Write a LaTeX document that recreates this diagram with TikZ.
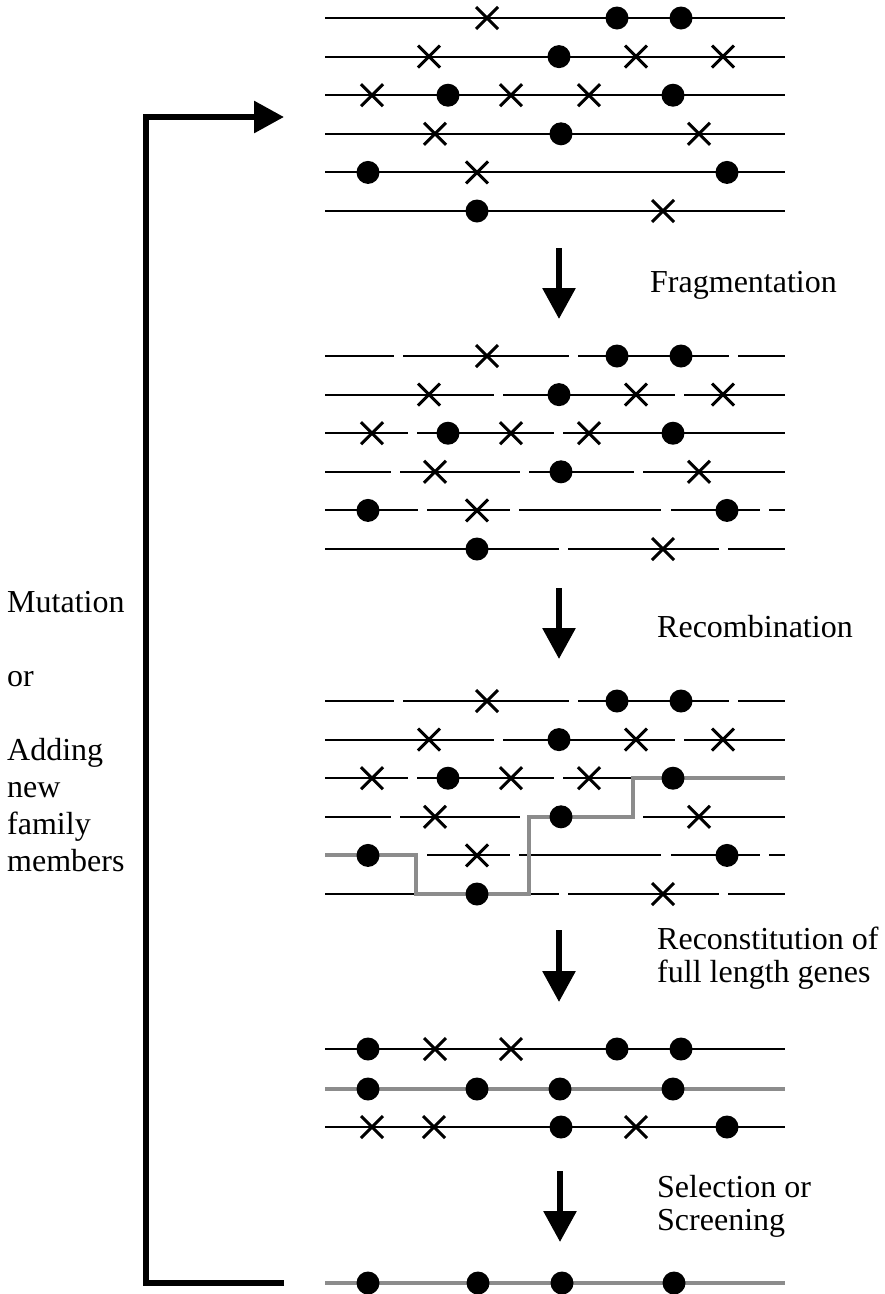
\documentclass[tikz,border=0pt]{standalone}
\usepackage{fontspec}
\setmainfont{Liberation Serif}
\usetikzlibrary{arrows.meta}
\tikzset{
	gene/.style={line width=2pt},
	picked/.style={line width=4pt, draw=black!45},
	xmark/.style={line width=3pt},
	stagearrow/.style={line width=6pt, -{Triangle[length=31pt,width=32pt]}},
	loopback/.style={line width=6pt, line join=miter, -{Triangle[length=30pt,width=31pt]}},
	steplabel/.style={font=\fontsize{32}{33}\selectfont, align=left, anchor=base west, inner sep=0pt}
}
\def\gdot(#1,#2){\fill (#1,#2) circle (11.5);}
\def\gcross(#1,#2){\draw[xmark] (#1-11,#2-11) -- (#1+11,#2+11) (#1-11,#2+11) -- (#1+11,#2-11);}
\def\family{
	\gcross(487,0) \gdot(617,0) \gdot(681,0)
	\gcross(429,38.6) \gdot(559,38.6) \gcross(636,38.6) \gcross(723,38.6)
	\gcross(372,77.2) \gdot(448,77.2) \gcross(511,77.2) \gcross(589,77.2) \gdot(673,77.2)
	\gcross(435,115.8) \gdot(561,115.8) \gcross(699,115.8)
	\gdot(368,154.4) \gcross(477,154.4) \gdot(727,154.4)
	\gdot(477,193) \gcross(663,193)
}
\def\fragments{
	\draw[gene] (325,0) -- (394,0) (403,0) -- (569,0) (578,0) -- (729,0) (738,0) -- (785,0);
	\draw[gene] (325,38.6) -- (494,38.6) (503,38.6) -- (675,38.6) (684,38.6) -- (785,38.6);
	\draw[gene] (325,77.2) -- (408,77.2) (417,77.2) -- (554,77.2) (563,77.2) -- (785,77.2);
	\draw[gene] (325,115.8) -- (391,115.8) (400,115.8) -- (520,115.8) (529,115.8) -- (634,115.8) (643,115.8) -- (785,115.8);
	\draw[gene] (325,154.4) -- (418,154.4) (427,154.4) -- (510,154.4) (519,154.4) -- (661,154.4) (671,154.4) -- (760,154.4) (769,154.4) -- (785,154.4);
	\draw[gene] (325,193) -- (559,193) (568,193) -- (719,193) (728,193) -- (785,193);
}

\begin{document}
\begin{tikzpicture}[x=1pt, y=-1pt]
	%%%%% START %%%%%
	\useasboundingbox (0,0) rectangle (885,1294);
	
	% starting genes
	\begin{scope}[shift={(0,18)}]
		\foreach \r in {0,1,...,5} \draw[gene] (325,\r*38.6) -- (785,\r*38.6);
		\family
	\end{scope}
	
	% fragmented
	\begin{scope}[shift={(0,356)}]
		\fragments
		\family
	\end{scope}
	
	% recombined
	\begin{scope}[shift={(0,701)}]
		\fragments
		\draw[picked] (325,154.4) -| (416,193) -| (529,115.8) -| (633,77.2) -- (785,77.2);
		\family
	\end{scope}
	
	% full length genes
	\draw[gene] (325,1049) -- (785,1049);
	\draw[picked] (325,1089) -- (785,1089);
	\draw[gene] (325,1127) -- (785,1127);
	\gdot(368,1049) \gcross(435,1049) \gcross(511,1049) \gdot(617,1049) \gdot(681,1049)
	\gdot(368,1089) \gdot(477,1089) \gdot(560,1089) \gdot(673,1089)
	\gcross(372,1127) \gcross(434,1127) \gdot(561,1127) \gcross(636,1127) \gdot(727,1127)
	
	% selected
	\draw[picked] (325,1283) -- (785,1283);
	\gdot(368,1283) \gdot(478,1283) \gdot(562,1283) \gdot(674,1283)
	
	% steps
	\coordinate (frag top) at (559,248);
	\coordinate (frag tip) at (559,319);
	\coordinate (recomb top) at (559,588);
	\coordinate (recomb tip) at (559,659);
	\coordinate (recon top) at (559,930);
	\coordinate (recon tip) at (559,1002);
	\coordinate (select top) at (560,1171);
	\coordinate (select tip) at (560,1242);
	\draw[stagearrow] (frag top) -- (frag tip);
	\draw[stagearrow] (recomb top) -- (recomb tip);
	\draw[stagearrow] (recon top) -- (recon tip);
	\draw[stagearrow] (select top) -- (select tip);
	
	\node[steplabel] (frag) at (650,292) {Fragmentation};
	\node[steplabel] (recomb) at (657,637) {Recombination};
	\node[steplabel] (recon) at (657,982) {Reconstitution of\\full length genes};
	\node[steplabel] (select) at (657,1230) {Selection or\\Screening};
	
	% back to the start
	\coordinate (back) at (284,1283);
	\coordinate (entry) at (284,117);
	\draw[loopback] (back) -- ++(-138,0) |- (entry);
	\node[steplabel, font=\fontsize{32}{37}\selectfont] (mutate) at (7,871)
		{Mutation\\[37pt]or\\[37pt]Adding\\new\\family\\members};
	%%%%% END %%%%%
\end{tikzpicture}
\end{document}
